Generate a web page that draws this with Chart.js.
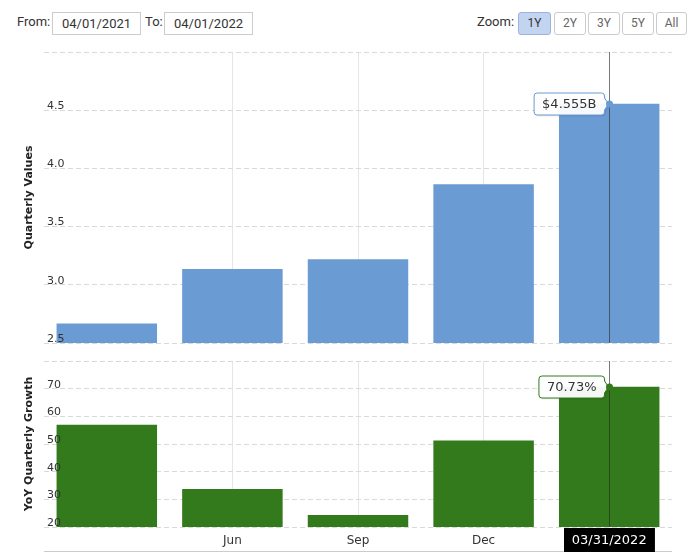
<!DOCTYPE html>
<html>
<head>
<meta charset="utf-8">
<script src="https://cdn.jsdelivr.net/npm/chart.js@4.4.1/dist/chart.umd.min.js"></script>
<style>
  body { margin: 0; background: #fff; width: 700px; height: 553px; overflow: hidden; position: relative; font-family: Roboto, sans-serif; }
  .lbl { position: absolute; top: 14px; font-size: 13px; color: #333; }
  .inp { position: absolute; top: 12px; height: 23px; width: 89px; border: 1px solid #ccc; box-sizing: border-box; font-size: 13px; color: #333; text-align: center; line-height: 21px; }
  .btn { position: absolute; top: 12px; height: 23px; width: 32px; border: 1px solid #ccc; border-radius: 3px; box-sizing: border-box; font-size: 12px; color: #666; text-align: center; line-height: 21px; background: #fff; }
  .btn.on { background: #c3d4f1; border-color: #9bb3df; color: #333; }
  canvas { position: absolute; left: 0; }
</style>
</head>
<body>
<div class="lbl" style="left:17px">From:</div>
<div class="inp" style="left:52px">04/01/2021</div>
<div class="lbl" style="left:145px">To:</div>
<div class="inp" style="left:164px">04/01/2022</div>
<div class="lbl" style="left:477px">Zoom:</div>
<div class="btn on" style="left:518px;width:33px">1Y</div>
<div class="btn" style="left:554px">2Y</div>
<div class="btn" style="left:588px">3Y</div>
<div class="btn" style="left:622px">5Y</div>
<div class="btn" style="left:656px;width:31px">All</div>

<canvas id="valuesChart" width="700" height="320" style="top:40px"></canvas>
<canvas id="growthChart" width="700" height="213" style="top:340px"></canvas>

<script>
// quarter end dates and the tick labels shown under them
const quarterEnds = ['03/31/2021', '06/30/2021', '09/30/2021', '12/31/2021', '03/31/2022'];
const tickLabels = ['', 'Jun', 'Sep', 'Dec', ''];

// series (billions of $ and % yoy)
const quarterlyValues = [2.668, 3.135, 3.22, 3.864, 4.555];
const yoyGrowth = [57.0, 33.7, 24.3, 51.3, 70.73];

// y axis ranges
const valueRange = [2.5, 5.0, 0.5];
const growthRange = [20, 80, 10];

const highlightIndex = 4;
const blue = '#6b9bd3';
const green = '#337a1d';
const axisFont = "'DejaVu Sans', Verdana, sans-serif";

// crosshair + callout box on the highlighted bar
function calloutPlugin(format, color) {
    return {
        id: 'callout',
        afterDatasetsDraw(chart) {
            const ctx = chart.ctx;
            const area = chart.chartArea;
            const bar = chart.getDatasetMeta(0).data[highlightIndex];
            const value = chart.data.datasets[0].data[highlightIndex];
            const x = Math.round(bar.x) + 0.5;
            const y = Math.round(bar.y);

            ctx.save();
            ctx.strokeStyle = 'rgba(30,30,30,0.55)';
            ctx.lineWidth = 1;
            ctx.beginPath();
            ctx.moveTo(x, area.top);
            ctx.lineTo(x, area.bottom);
            ctx.stroke();

            ctx.font = '13px ' + axisFont;
            const text = format(value);
            const w = ctx.measureText(text).width + 16;
            const R = x - 5, L = R - w, T = y - 11, B = y + 11, r = 3;
            ctx.beginPath();
            ctx.moveTo(L + r, T);
            ctx.lineTo(R - r, T);
            ctx.arcTo(R, T, R, T + r, r);
            ctx.lineTo(R, y - 6);
            ctx.lineTo(x - 1, y);
            ctx.lineTo(R, y + 6);
            ctx.lineTo(R, B - r);
            ctx.arcTo(R, B, R - r, B, r);
            ctx.lineTo(L + r, B);
            ctx.arcTo(L, B, L, B - r, r);
            ctx.lineTo(L, T + r);
            ctx.arcTo(L, T, L + r, T, r);
            ctx.closePath();
            ctx.shadowColor = 'rgba(0,0,0,0.15)';
            ctx.shadowOffsetX = 1;
            ctx.shadowOffsetY = 1;
            ctx.shadowBlur = 2;
            ctx.fillStyle = 'rgba(255,255,255,0.95)';
            ctx.fill();
            ctx.shadowColor = 'transparent';
            ctx.strokeStyle = color;
            ctx.stroke();

            ctx.fillStyle = '#333';
            ctx.textBaseline = 'middle';
            ctx.fillText(text, L + 8, y + 1);

            ctx.beginPath();
            ctx.arc(x, y, 3.5, 0, Math.PI * 2);
            ctx.fillStyle = color;
            ctx.fill();
            ctx.restore();
        }
    };
}

// bottom axis line and the black date label under the crosshair
const dateLabelPlugin = {
    id: 'dateLabel',
    afterDraw(chart) {
        const ctx = chart.ctx;
        const area = chart.chartArea;
        const bar = chart.getDatasetMeta(0).data[highlightIndex];
        ctx.save();
        ctx.strokeStyle = '#ccc';
        ctx.beginPath();
        ctx.moveTo(area.left, 211.5);
        ctx.lineTo(area.right, 211.5);
        ctx.stroke();

        ctx.font = '13px ' + axisFont;
        const text = quarterEnds[highlightIndex];
        const w = ctx.measureText(text).width + 16;
        ctx.fillStyle = '#000';
        ctx.fillRect(Math.round(bar.x - w / 2), area.bottom + 1, w, 24);
        ctx.fillStyle = '#fff';
        ctx.textAlign = 'center';
        ctx.textBaseline = 'middle';
        ctx.fillText(text, bar.x, area.bottom + 14);
        ctx.restore();
    }
};

function makeOptions(range, title, showX, padding, xHeight) {
    return {
        responsive: false,
        animation: false,
        layout: { padding: padding },
        plugins: { legend: { display: false }, tooltip: { enabled: false } },
        scales: {
            x: {
                afterFit: scale => { if (showX) scale.height = xHeight; },
                grid: {
                    offset: false,
                    drawTicks: false,
                    color: ctx => ctx.index === 0 ? 'rgba(0,0,0,0)' : '#e6e6e6'
                },
                border: { display: false },
                ticks: {
                    display: showX,
                    color: '#333',
                    padding: 7,
                    maxRotation: 0,
                    autoSkip: false,
                    font: { family: axisFont, size: 12 }
                }
            },
            y: {
                min: range[0],
                max: range[1],
                afterFit: scale => { scale.width = 44; },
                grid: { color: '#d9d9d9', drawTicks: false },
                border: { display: false, dash: [5, 3] },
                ticks: {
                    stepSize: range[2],
                    mirror: true,
                    padding: 3,
                    labelOffset: -4,
                    z: 1,
                    color: '#333',
                    font: { family: axisFont, size: 11 },
                    callback: v => v === range[1] ? '' : (range[2] < 1 ? v.toFixed(1) : String(v))
                },
                title: {
                    display: true,
                    text: title,
                    color: '#222',
                    padding: { top: 23, bottom: 0 },
                    font: { family: axisFont, size: 11, weight: 'bold' }
                }
            }
        }
    };
}

new Chart(document.getElementById('valuesChart'), {
    type: 'bar',
    data: {
        labels: tickLabels,
        datasets: [{
            data: quarterlyValues,
            backgroundColor: blue,
            barPercentage: 0.8,
            categoryPercentage: 1.0
        }]
    },
    options: makeOptions(valueRange, 'Quarterly Values', false, { left: 0, right: 28, top: 12, bottom: 17 }, 0),
    plugins: [calloutPlugin(v => '$' + v.toFixed(3) + 'B', blue)]
});

new Chart(document.getElementById('growthChart'), {
    type: 'bar',
    data: {
        labels: tickLabels,
        datasets: [{
            data: yoyGrowth,
            backgroundColor: green,
            barPercentage: 0.8,
            categoryPercentage: 1.0
        }]
    },
    options: makeOptions(growthRange, 'YoY Quarterly Growth', true, { left: 0, right: 28, top: 21, bottom: 0 }, 26),
    plugins: [calloutPlugin(v => v.toFixed(2) + '%', green), dateLabelPlugin]
});
</script>
</body>
</html>
